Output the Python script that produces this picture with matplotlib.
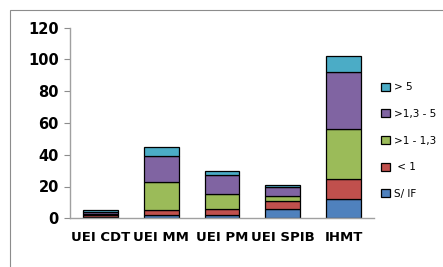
import matplotlib
matplotlib.use("Agg")
import matplotlib.pyplot as plt
import numpy as np
from matplotlib.patches import Rectangle

# === DATOS ===
categorias = ["UEI CDT", "UEI MM", "UEI PM", "UEI SPIB", "IHMT"]
series = ["S/ IF", " < 1", ">1 - 1,3", ">1,3 - 5", "> 5"]
s_if = [1, 2, 2, 6, 12]
menor_1 = [1, 3, 4, 5, 13]
de_1_13 = [1, 18, 9, 3, 31]
de_13_5 = [1, 16, 12, 6, 36]
mayor_5 = [1, 6, 3, 1, 10]
colores = ["#4F81BD", "#C0504D", "#9BBB59", "#8064A2", "#4BACC6"]

valores = [s_if, menor_1, de_1_13, de_13_5, mayor_5]

fig = plt.figure(figsize=(4.43, 2.67), dpi=100)
fig.patches.append(Rectangle((10 / 443, -0.1), 1.1, 1 - 10 / 267 + 0.1,
                             transform=fig.transFigure, fill=False,
                             edgecolor="#8c8c8c", linewidth=0.8))

ax = fig.add_axes([70 / 443, 1 - 218.3 / 267, 304 / 443, (218.3 - 27.5) / 267])

x = np.arange(len(categorias))
base = np.zeros(len(categorias))
for vals, nombre, color in zip(valores, series, colores):
    ax.bar(x, vals, 0.57, bottom=base, color=color, edgecolor="black",
           linewidth=0.9, label=nombre)
    base += np.array(vals)

ax.set_xlim(-0.5, len(categorias) - 0.5)
ax.set_ylim(0, 120)
ax.set_yticks(range(0, 121, 20))
ax.set_xticks(x)
ax.set_xticklabels(categorias, fontweight="bold", fontsize=9.5)
for t in ax.get_yticklabels():
    t.set_fontweight("bold")
    t.set_fontsize(10.5)
ax.tick_params(axis="x", length=0, pad=9)
ax.tick_params(axis="y", length=4, color="#8c8c8c", pad=4)
for lado in ["top", "right"]:
    ax.spines[lado].set_visible(False)
for lado in ["left", "bottom"]:
    ax.spines[lado].set_color("#a0a0a0")
    ax.spines[lado].set_linewidth(1.0)

h, l = ax.get_legend_handles_labels()
ax.legend(h[::-1], l[::-1], loc="upper left", bbox_to_anchor=(1.01, 0.735),
          frameon=False, fontsize=7.5, handlelength=0.8, handleheight=0.8,
          handletextpad=0.4, labelspacing=1.6, borderaxespad=0)

fig.savefig("out.png", dpi=100)
